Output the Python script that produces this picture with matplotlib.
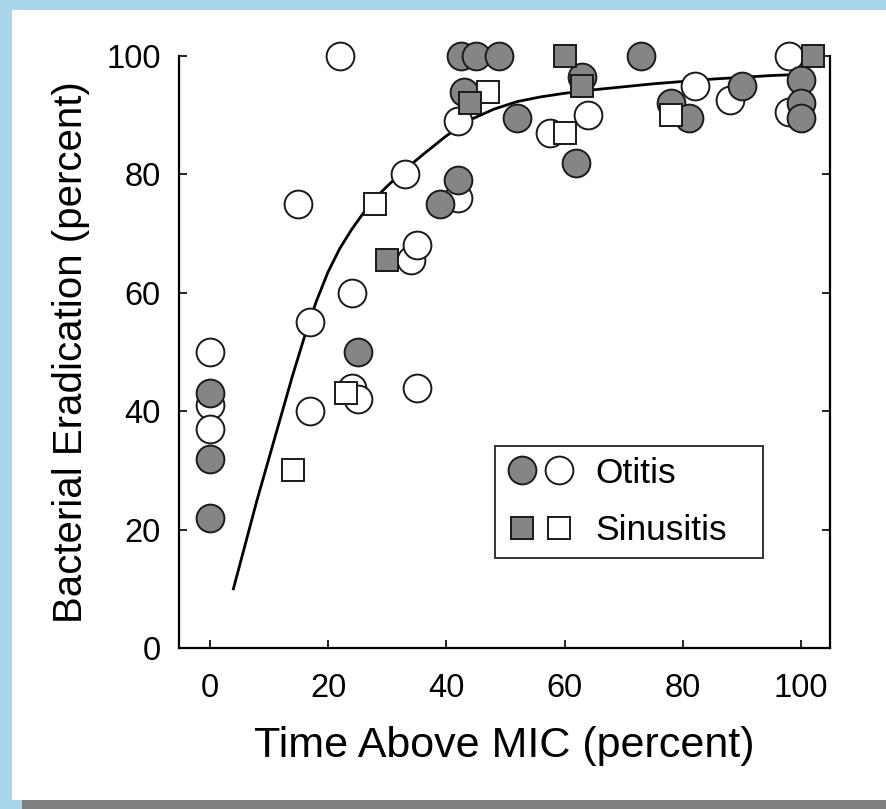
import numpy as np
import matplotlib
matplotlib.use("Agg")
import matplotlib.pyplot as plt
from matplotlib.lines import Line2D
from matplotlib.patches import Rectangle
from matplotlib.legend_handler import HandlerTuple

plt.rcParams['font.family'] = ['Liberation Sans', 'DejaVu Sans']

# otitis, filled circles
otitis_filled_x = [0, 0, 0, 25, 39, 42, 43, 42.5, 45, 49, 52, 62, 63, 73, 78, 81, 90, 100, 100, 100]
otitis_filled_y = [43, 32, 22, 50, 75, 79, 94, 100, 100, 100, 89.5, 82, 96.5, 100, 92, 89.5, 95, 96, 92, 89.5]
# otitis, open circles
otitis_open_x = [0, 0, 0, 15, 17, 17, 22, 24, 24, 25, 33, 34, 35, 35, 42, 42, 57.5, 64, 82, 88, 98, 98]
otitis_open_y = [50, 41, 37, 75, 55, 40, 100, 60, 44, 42, 80, 65.5, 68, 44, 89, 76, 87, 90, 95, 92.5, 100, 90.5]
# sinusitis, filled squares
sinus_filled_x = [30, 44, 60, 63, 102]
sinus_filled_y = [65.5, 92, 100, 95, 100]
# sinusitis, open squares
sinus_open_x = [14, 23, 28, 47, 60, 78]
sinus_open_y = [30, 43, 75, 94, 87, 90]

# fitted curve
curve_x = [4, 6, 8, 10, 12, 14, 16, 18, 20, 22, 24, 26, 28, 30, 33, 36, 40, 44, 48,
           52, 56, 60, 65, 70, 75, 80, 85, 90, 95, 100]
curve_y = [10, 17.5, 25, 32, 39, 46, 52.5, 58.5, 63.5, 67.5, 70.7, 73.5, 76, 78, 80.8, 83.3, 86.5, 89.2, 91,
           92.3, 93.1, 93.7, 94.3, 94.8, 95.3, 95.7, 96.1, 96.4, 96.7, 96.9]

gray = '#858585'
edge = '#1a1a1a'

fig = plt.figure(figsize=(8.86, 8.09), dpi=100, facecolor='#a9d6e8')
# white page and grey strip at the bottom
fig.patches.append(Rectangle((12/886, 9/809), 1, 1 - 9/809 - 10/809, transform=fig.transFigure,
                             facecolor='white', edgecolor='none', zorder=-5))
fig.patches.append(Rectangle((22/886, 0), 1, 9/809, transform=fig.transFigure,
                             facecolor='#7f7f7f', edgecolor='none', zorder=-5))

ax = fig.add_axes([179/886, 1 - 648/809, (830 - 179)/886, (648 - 56)/809])
ax.set_facecolor('none')

ax.plot(curve_x, curve_y, color='black', lw=2.0, zorder=2)

ms_c = 20
ms_s = 16.5
mew = 1.4
ax.plot(otitis_open_x, otitis_open_y, 'o', ms=ms_c, mfc='white', mec=edge, mew=mew, clip_on=False, zorder=3)
ax.plot(otitis_filled_x, otitis_filled_y, 'o', ms=ms_c, mfc=gray, mec=edge, mew=mew, clip_on=False, zorder=3)
ax.plot(sinus_open_x, sinus_open_y, 's', ms=ms_s, mfc='white', mec=edge, mew=mew, clip_on=False, zorder=4)
ax.plot(sinus_filled_x, sinus_filled_y, 's', ms=ms_s, mfc=gray, mec=edge, mew=mew, clip_on=False, zorder=4)

ax.set_xlim(-5.2, 104.9)
ax.set_ylim(0, 100)
ax.set_xticks([0, 20, 40, 60, 80, 100])
ax.set_yticks([0, 20, 40, 60, 80, 100])
ax.spines['top'].set_visible(False)
for s in ['left', 'right', 'bottom']:
    ax.spines[s].set_linewidth(1.6)
ax.tick_params(direction='in', length=6, width=1.2, labelsize=23.5,
               right=True, top=False)
ax.tick_params(axis='x', pad=18)
ax.tick_params(axis='y', pad=13)

ax.set_xlabel('Time Above MIC (percent)', fontsize=31, labelpad=16)
ax.set_ylabel('Bacterial Eradication (percent)', fontsize=29, labelpad=12)

h_oti = (Line2D([], [], ls='none', marker='o', ms=ms_c, mfc=gray, mec=edge, mew=mew),
         Line2D([], [], ls='none', marker='o', ms=ms_c, mfc='white', mec=edge, mew=mew))
h_sin = (Line2D([], [], ls='none', marker='s', ms=ms_s, mfc=gray, mec=edge, mew=mew),
         Line2D([], [], ls='none', marker='s', ms=ms_s, mfc='white', mec=edge, mew=mew))
leg = ax.legend([h_oti, h_sin], ['Otitis', 'Sinusitis'],
                handler_map={tuple: HandlerTuple(ndivide=None, pad=0.1)},
                loc='lower left', bbox_to_anchor=(0.485, 0.152, 0.412, 0.19), mode='expand',
                borderaxespad=0, fontsize=25.5, frameon=True, fancybox=False, handlelength=2.0,
                handletextpad=0.55, labelspacing=0.7, borderpad=0.3)
leg.get_frame().set_edgecolor('black')
leg.get_frame().set_linewidth(1.4)

fig.savefig('out.png', dpi=100, facecolor=fig.get_facecolor())
